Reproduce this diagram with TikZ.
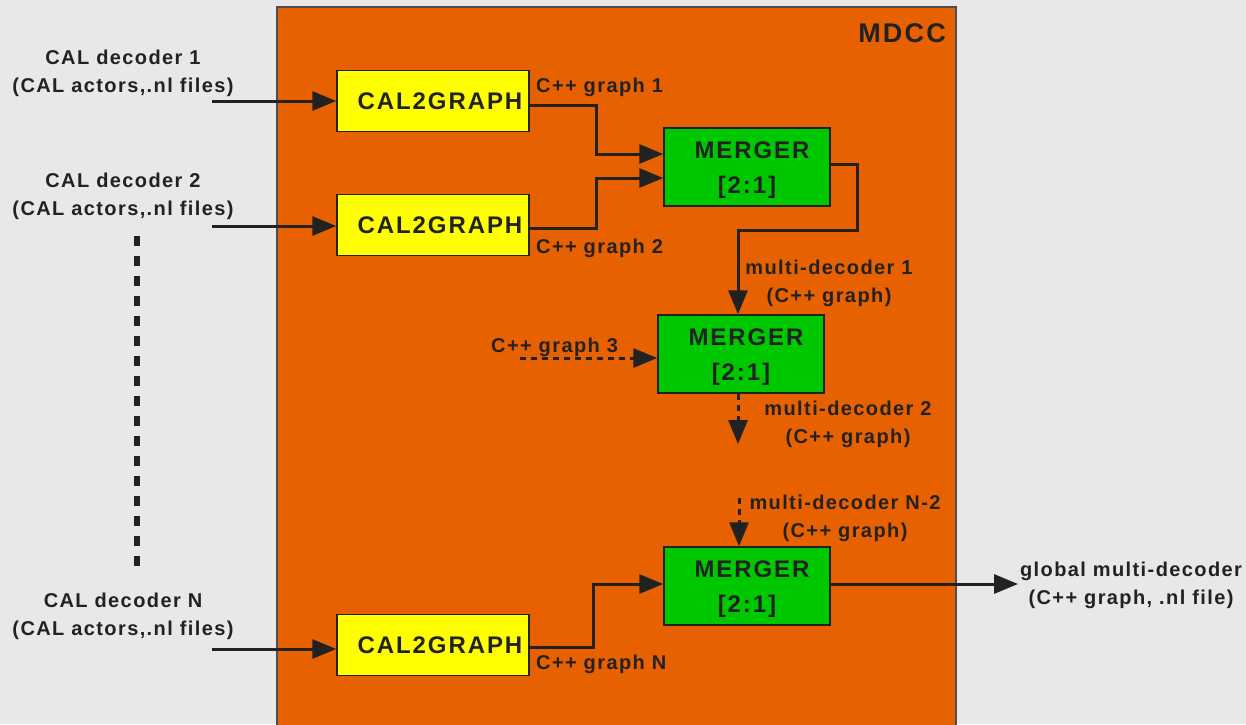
\documentclass[tikz,border=0pt]{standalone}
\usepackage{fontspec}
\setmainfont{Liberation Sans}
\newfontfamily\lblfont[LetterSpace=7]{Liberation Sans}
\newfontfamily\boxfont[LetterSpace=8]{Liberation Sans}
\usetikzlibrary{arrows.meta}
\definecolor{bg}{HTML}{E8E8E8}
\definecolor{mdcc}{HTML}{E86100}
\definecolor{ybox}{HTML}{FFFF00}
\definecolor{gbox}{HTML}{00C800}
\definecolor{ink}{HTML}{222222}
\newcommand\lowered[1]{\raisebox{-3pt}[\height][\depth]{#1}}
\tikzset{
  lbl/.style={font=\lblfont\bfseries\fontsize{20}{28}\selectfont, text=ink, align=center, inner sep=0pt},
  lbll/.style={lbl, anchor=west},
  calbox/.style={draw=ink, line width=1.5pt, fill=ybox, minimum width=192pt, minimum height=61pt, inner sep=0pt, font=\boxfont\bfseries\fontsize{24}{28}\selectfont, text=ink},
  mbox/.style={draw=ink, line width=1.5pt, fill=gbox, minimum width=166pt, minimum height=78pt, inner sep=0pt, align=center, font=\boxfont\bfseries\fontsize{24}{35}\selectfont, text=ink},
  arr/.style={draw=ink, line width=3pt, -{Triangle[length=24pt,width=19pt]}},
  dsh/.style={arr, dash pattern=on 6pt off 5pt}
}
\begin{document}
\begin{tikzpicture}[x=1pt,y=-1pt]
\fill[bg] (0,0) rectangle (1246,724);
\useasboundingbox (0,0) rectangle (1246,724);
\draw[fill=mdcc, draw=ink!80, line width=1.2pt] (277,7) rectangle (956,740);
\node[lbl, anchor=east, font=\boxfont\bfseries\fontsize{27}{30}\selectfont] (mdcc) at (946,33) {MDCC};

% left labels
\node[lbl] (d1) at (123,73) {CAL decoder 1\\(CAL actors,.nl files)};
\node[lbl] (d2) at (123,196) {CAL decoder 2\\(CAL actors,.nl files)};
\node[lbl] (dN) at (123,616) {CAL decoder N\\(CAL actors,.nl files)};
\coordinate (s1) at (212,101);
\coordinate (s2) at (212,226);
\coordinate (sN) at (212,649);
\draw[ink, line width=5.5pt, dash pattern=on 10pt off 10pt] (137,236) -- (137,566);

% CAL2GRAPH boxes
\node[calbox] (c1) at (433,101) {\kern14pt CAL2GRAPH};
\node[calbox] (c2) at (433,225) {\kern14pt CAL2GRAPH};
\node[calbox] (cN) at (433,645) {\kern14pt CAL2GRAPH};

% mergers
\node[mbox] (m1) at (747,167) {\lowered{\kern10pt MERGER}\\\lowered{[2:1]}};
\node[mbox] (m2) at (741,354) {\lowered{\kern10pt MERGER}\\\lowered{[2:1]}};
\node[mbox] (m3) at (747,586) {\lowered{\kern10pt MERGER}\\\lowered{[2:1]}};

% inputs
\draw[arr] (s1) -- (s1 -| c1.west);
\draw[arr] (s2) -- (s2 -| c2.west);
\draw[arr] (sN) -- (sN -| cN.west);

% c -> m1
\coordinate (j1) at (596,0);
\coordinate (m1a) at ([yshift=13pt]m1.west);
\coordinate (m1b) at ([yshift=-11pt]m1.west);
\draw[arr] ([yshift=-4pt]c1.east) -| (j1 |- m1a) -- (m1a);
\draw[arr] ([yshift=-3pt]c2.east) -| (j1 |- m1b) -- (m1b);
\node[lbll] (g1) at (536,87) {C++ graph 1};
\node[lbll] (g2) at (536,248) {C++ graph 2};

% m1 -> m2
\coordinate (k1) at (738,230);
\draw[arr] ([yshift=3pt]m1.east) -- ++(27,0) |- (k1) -- (k1 |- m2.north);
\node[lbl] (md1) at (829,283) {multi-decoder 1\\(C++ graph)};

% graph 3 -> m2
\coordinate (g3s) at (520,358);
\node[lbll] (g3) at (491,347) {C++ graph 3};
\draw[dsh] (g3s) -- (g3s -| m2.west);

% m2 -> dashed out
\coordinate (o2) at (738,444);
\draw[dsh] (o2 |- m2.south) -- (o2);
\node[lbl] (md2) at (848,424) {multi-decoder 2\\(C++ graph)};

% dashed into m3
\coordinate (i3) at (739,498);
\draw[dsh] (i3) -- (i3 |- m3.north);
\node[lbl] (md3) at (845,518) {multi-decoder N-2\\(C++ graph)};

% cN -> m3
\coordinate (jN) at (593,0);
\coordinate (m3a) at ([yshift=2pt]m3.west);
\draw[arr] ([yshift=-2pt]cN.east) -| (jN |- m3a) -- (m3a);
\node[lbll] (gN) at (536,664) {C++ graph N};

% output
\coordinate (out) at (1018,584);
\draw[arr] ([yshift=2pt]m3.east) -- (out);
\node[lbl] (gl) at (1131,585) {global multi-decoder\\(C++ graph, .nl file)};
\end{tikzpicture}
\end{document}
